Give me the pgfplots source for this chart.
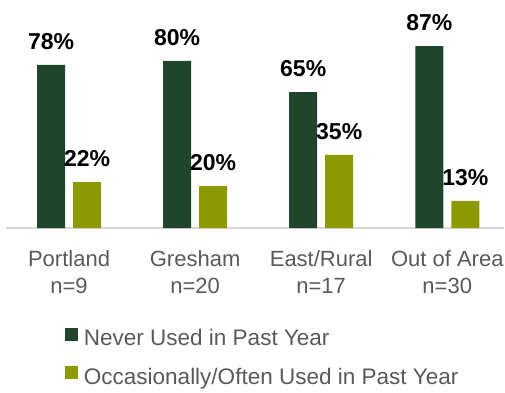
\documentclass[border=0pt]{standalone}
\usepackage{pgfplots}
\pgfplotsset{compat=1.18}
\usepackage{fontspec}
\setmainfont{Liberation Sans}
\definecolor{dkgreen}{HTML}{21452C}
\definecolor{olivegr}{HTML}{8C9900}
\definecolor{txt}{HTML}{595959}
\begin{document}
\begin{tikzpicture}[x=1pt,y=1pt]
\begin{axis}[
  at={(6pt,164pt)}, anchor=south west,
  scale only axis, width=498pt, height=209pt,
  ymin=0, ymax=100, xmin=-0.5, xmax=3.45,
  ybar=8pt, bar width=28pt,
  axis y line=none,
  axis x line*=bottom,
  x axis line style={draw=black!15, line width=1.5pt},
  xtick={0,1,2,3},
  xticklabels={{Portland\\n=9},{Gresham\\n=20},{East/Rural\\n=17},{Out of Area\\n=30}},
  major tick length=0pt,
  xticklabel style={align=center, text=txt, font=\fontsize{22}{27}\selectfont, yshift=-19pt},
  clip=false,
  /pgf/number format/assume math mode=true,
  nodes near coords={\pgfmathprintnumber{\pgfplotspointmeta}\%},
  every node near coord/.append style={font=\fontsize{23}{26}\selectfont\bfseries, text=black, anchor=south, inner sep=0pt, yshift=15pt},
  legend cell align=left,
  legend style={at={(0.118,-0.477)}, anchor=north west, draw=none, fill=none, inner sep=0pt,
    font=\fontsize{22.5}{25}\selectfont, text=txt, row sep=19pt,
    nodes={inner sep=0pt, text=txt}, column sep=6pt},
]
\addplot[fill=dkgreen, draw=none, legend image code/.code={\fill[dkgreen] (0pt,-2.5pt) rectangle (13pt,10.5pt);}] coordinates {(0,78) (1,80) (2,65) (3,87)};
\addplot[fill=olivegr, draw=none, legend image code/.code={\fill[olivegr] (0pt,-2.5pt) rectangle (13pt,10.5pt);}] coordinates {(0,22) (1,20) (2,35) (3,13)};
\legend{Never Used in Past Year, Occasionally/Often Used in Past Year}
\end{axis}
\pgfresetboundingbox
\path[use as bounding box] (0,0) rectangle (505,392);
\end{tikzpicture}
\end{document}
